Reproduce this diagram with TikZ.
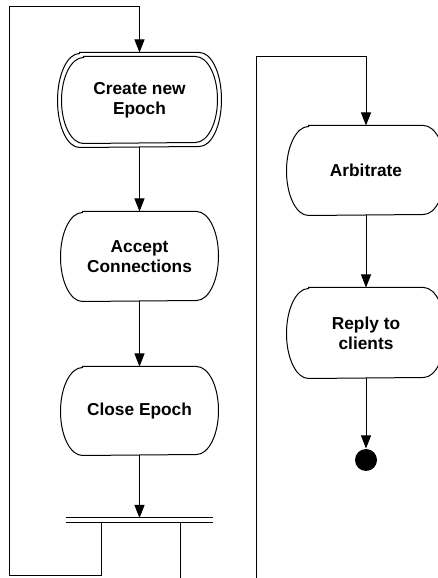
\documentclass[tikz,border=0pt]{standalone}
\usepackage{fontspec}
\setmainfont{Liberation Sans}
\usetikzlibrary{arrows.meta}

% outline of an action state: [inset]{node}{half height}
\newcommand{\actoutline}[3][0pt]{%
  \draw ([shift={(22pt+#1,-#1)}]#2.north west)
    -- ([shift={(-22pt-#1,-#1)}]#2.north east)
    arc[start angle=90, end angle=-90, x radius=22pt, y radius=#3-#1]
    -- ([shift={(22pt+#1,#1)}]#2.south west)
    arc[start angle=270, end angle=90, x radius=22pt, y radius=#3-#1]
    -- cycle;%
}

\begin{document}
\begin{tikzpicture}[x=1pt, y=1pt, line width=1pt,
    every node/.style={font=\fontsize{17.3}{20}\selectfont\bfseries,
                       align=center, inner sep=0pt},
    actnode/.style={minimum width=158pt, minimum height=89pt},
    arr/.style={-{Triangle[width=10pt,length=13pt]}}
  ]
  % Frame
  \useasboundingbox (0,0) rectangle (438,578);
  \clip (0,0) rectangle (438,578);

  % Epoch loop
  \node[actnode, minimum width=163pt, minimum height=94pt] (create) at (139.5,478)
    {Create new\\Epoch};
  \actoutline{create}{47pt}
  \actoutline[4pt]{create}{47pt}

  \node[actnode, minimum width=157pt] (accept) at (139.5,321.5) {Accept\\Connections};
  \actoutline{accept}{44.5pt}

  \node[actnode, minimum width=157pt, minimum height=88pt] (close) at (139.5,167) {Close Epoch};
  \actoutline{close}{44pt}

  % Fork bar
  \node[minimum width=147pt, minimum height=5pt, outer sep=0pt] (bar) at (139.5,57.5) {};
  \draw (bar.north west) -- (bar.north east)
        (bar.south west) -- (bar.south east);

  \draw[arr] (create) -- (accept);
  \draw[arr] (accept) -- (close);
  \draw[arr] (close) -- (close |- bar.north);

  \coordinate (forkA) at (101,2);
  \coordinate (loopL) at (9,2);
  \coordinate (topL) at (139.5,571);
  \draw[arr] (bar.south -| forkA) -- (forkA) -- (loopL) -- (loopL |- topL)
    -- (topL) -- (topL |- create.north);

  \coordinate (forkB) at (180,0);
  \draw (bar.south -| forkB) -- (forkB);

  % Arbitration loop
  \node[actnode] (arbitrate) at (366,407.5) {Arbitrate};
  \actoutline{arbitrate}{44.5pt}

  \node[actnode, minimum height=90pt] (reply) at (366,245) {Reply to\\clients};
  \actoutline{reply}{45pt}

  \node[circle, fill=black, minimum size=22pt] (end) at (366,118) {};

  \coordinate (loopR) at (256,0);
  \coordinate (topR) at (366,521);
  \draw[arr] (loopR) -- (loopR |- topR) -- (topR) -- (arbitrate);
  \draw[arr] (arbitrate) -- (reply);
  \draw[arr] (reply) -- (end);
\end{tikzpicture}
\end{document}
